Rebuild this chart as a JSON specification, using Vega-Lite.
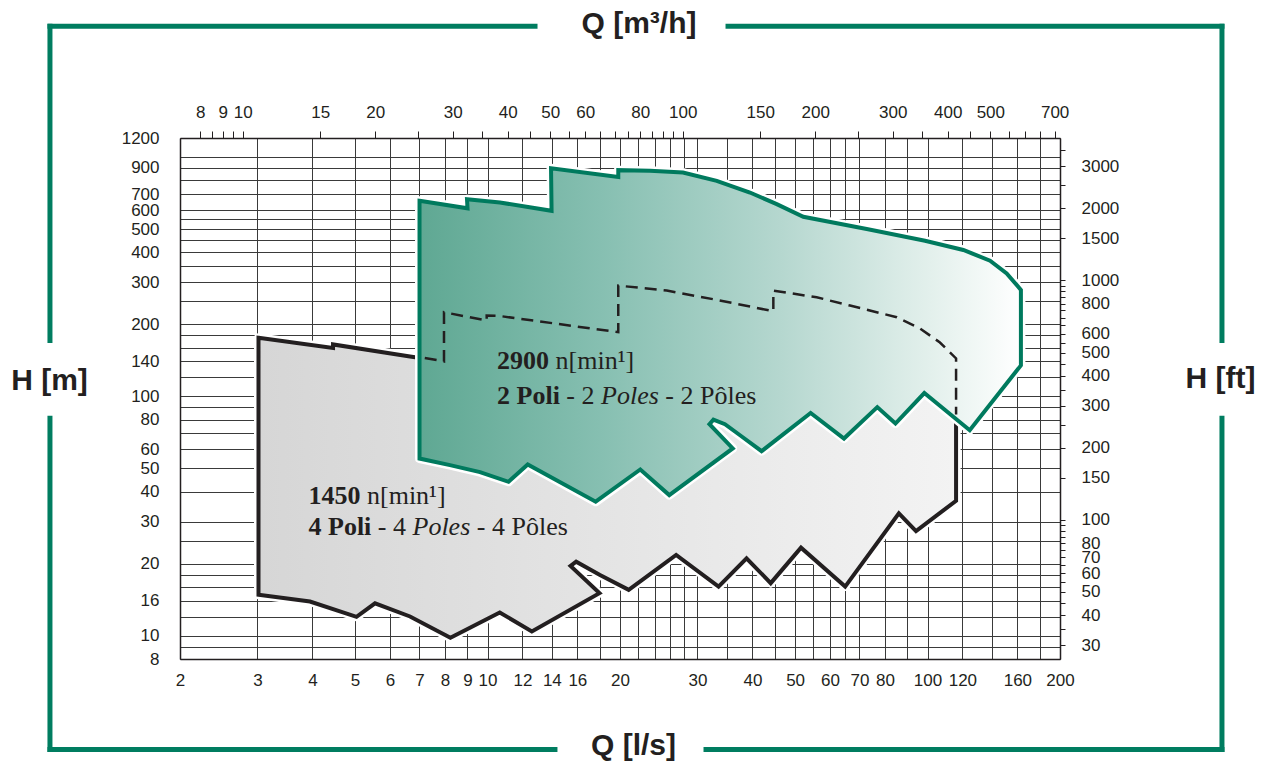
{
  "$schema": "https://vega.github.io/schema/vega-lite/v6.json",
  "width": 880,
  "height": 521,
  "autosize": {"type": "none"},
  "padding": {"left": 180, "top": 138, "right": 208, "bottom": 106},
  "background": "white",
  "config": {
    "view": {"stroke": null},
    "font": "Liberation Sans",
    "axis": {
      "labelFont": "Liberation Sans",
      "labelFontSize": 17,
      "labelColor": "#231f20",
      "labelOverlap": false,
      "labelFlush": false,
      "labelBound": false,
      "domainColor": "#231f20",
      "domainWidth": 1.5,
      "tickColor": "#231f20",
      "tickWidth": 1,
      "titleFont": "Liberation Sans",
      "titleFontSize": 30,
      "titleFontWeight": "bold",
      "titleColor": "#231f20",
      "titleAlign": "center",
      "titleAngle": 0,
      "titleBaseline": "alphabetic"
    }
  },
  "datasets": {
    "grey": [
      {"i": 1, "Q": 3.016, "H": 175.7},
      {"i": 2, "Q": 4.455, "H": 159.4},
      {"i": 3, "Q": 4.455, "H": 164.8},
      {"i": 4, "Q": 6.665, "H": 146.8},
      {"i": 5, "Q": 7.962, "H": 140.0},
      {"i": 6, "Q": 7.962, "H": 224.6},
      {"i": 7, "Q": 9.955, "H": 207.4},
      {"i": 8, "Q": 9.955, "H": 217.6},
      {"i": 9, "Q": 10.67, "H": 216.6},
      {"i": 10, "Q": 19.82, "H": 185.4},
      {"i": 11, "Q": 19.82, "H": 290.2},
      {"i": 12, "Q": 25.54, "H": 276.6},
      {"i": 13, "Q": 33.18, "H": 253.0},
      {"i": 14, "Q": 44.62, "H": 226.8},
      {"i": 15, "Q": 44.62, "H": 276.6},
      {"i": 16, "Q": 55.98, "H": 259.4},
      {"i": 17, "Q": 66.65, "H": 239.5},
      {"i": 18, "Q": 85.12, "H": 214.1},
      {"i": 19, "Q": 96.12, "H": 192.2},
      {"i": 20, "Q": 106.7, "H": 167.9},
      {"i": 21, "Q": 116.1, "H": 144.0},
      {"i": 22, "Q": 116.1, "H": 36.64},
      {"i": 23, "Q": 94.14, "H": 27.39},
      {"i": 24, "Q": 86.06, "H": 32.47},
      {"i": 25, "Q": 64.98, "H": 16.05},
      {"i": 26, "Q": 51.57, "H": 23.34},
      {"i": 27, "Q": 44.01, "H": 16.59},
      {"i": 28, "Q": 38.78, "H": 21.08},
      {"i": 29, "Q": 33.5, "H": 16.05},
      {"i": 30, "Q": 26.83, "H": 21.76},
      {"i": 31, "Q": 20.93, "H": 15.56},
      {"i": 32, "Q": 18.01, "H": 17.96},
      {"i": 33, "Q": 15.9, "H": 20.4},
      {"i": 34, "Q": 15.44, "H": 19.58},
      {"i": 35, "Q": 17.96, "H": 15.07},
      {"i": 36, "Q": 12.61, "H": 10.43},
      {"i": 37, "Q": 10.66, "H": 12.51},
      {"i": 38, "Q": 8.234, "H": 9.81},
      {"i": 39, "Q": 6.665, "H": 12.04},
      {"i": 40, "Q": 5.549, "H": 13.66},
      {"i": 41, "Q": 5.037, "H": 12.0},
      {"i": 42, "Q": 3.949, "H": 13.9},
      {"i": 43, "Q": 3.016, "H": 14.83}
    ],
    "green": [
      {"i": 1, "Q": 7.005, "H": 655.9},
      {"i": 2, "Q": 9.005, "H": 610.3},
      {"i": 3, "Q": 8.981, "H": 665.5},
      {"i": 4, "Q": 10.67, "H": 645.3},
      {"i": 5, "Q": 13.98, "H": 595.8},
      {"i": 6, "Q": 13.94, "H": 897.6},
      {"i": 7, "Q": 19.82, "H": 825.7},
      {"i": 8, "Q": 19.82, "H": 880.8},
      {"i": 9, "Q": 23.4, "H": 874.9},
      {"i": 10, "Q": 27.81, "H": 860.7},
      {"i": 11, "Q": 33.18, "H": 794.7},
      {"i": 12, "Q": 39.48, "H": 710.4},
      {"i": 13, "Q": 45.42, "H": 635.5},
      {"i": 14, "Q": 52.2, "H": 562.6},
      {"i": 15, "Q": 72.74, "H": 500.0},
      {"i": 16, "Q": 98.68, "H": 446.9},
      {"i": 17, "Q": 120.6, "H": 408.7},
      {"i": 18, "Q": 138.7, "H": 368.9},
      {"i": 19, "Q": 151.3, "H": 326.5},
      {"i": 20, "Q": 163.0, "H": 278.5},
      {"i": 21, "Q": 163.0, "H": 134.7},
      {"i": 22, "Q": 124.7, "H": 72.2},
      {"i": 23, "Q": 98.32, "H": 103.3},
      {"i": 24, "Q": 84.54, "H": 77.0},
      {"i": 25, "Q": 76.88, "H": 90.2},
      {"i": 26, "Q": 64.58, "H": 66.66},
      {"i": 27, "Q": 54.24, "H": 85.2},
      {"i": 28, "Q": 41.96, "H": 59.03},
      {"i": 29, "Q": 37.48, "H": 68.8},
      {"i": 30, "Q": 34.64, "H": 76.5},
      {"i": 31, "Q": 32.61, "H": 80.0},
      {"i": 32, "Q": 31.94, "H": 76.5},
      {"i": 33, "Q": 36.08, "H": 60.6},
      {"i": 34, "Q": 25.88, "H": 38.7},
      {"i": 35, "Q": 22.24, "H": 49.5},
      {"i": 36, "Q": 17.61, "H": 36.3},
      {"i": 37, "Q": 12.34, "H": 51.96},
      {"i": 38, "Q": 11.16, "H": 43.96},
      {"i": 39, "Q": 9.613, "H": 48.25},
      {"i": 40, "Q": 8.217, "H": 51.6},
      {"i": 41, "Q": 7.005, "H": 55.0}
    ],
    "dashed": [
      {"i": 1, "Q": 7.2, "H": 144.6},
      {"i": 2, "Q": 7.962, "H": 140.0},
      {"i": 3, "Q": 7.962, "H": 224.6},
      {"i": 4, "Q": 9.955, "H": 207.4},
      {"i": 5, "Q": 9.955, "H": 217.6},
      {"i": 6, "Q": 10.67, "H": 216.6},
      {"i": 7, "Q": 19.82, "H": 185.4},
      {"i": 8, "Q": 19.82, "H": 290.2},
      {"i": 9, "Q": 25.54, "H": 276.6},
      {"i": 10, "Q": 33.18, "H": 253.0},
      {"i": 11, "Q": 44.62, "H": 226.8},
      {"i": 12, "Q": 44.62, "H": 276.6},
      {"i": 13, "Q": 55.98, "H": 259.4},
      {"i": 14, "Q": 66.65, "H": 239.5},
      {"i": 15, "Q": 85.12, "H": 214.1},
      {"i": 16, "Q": 96.12, "H": 192.2},
      {"i": 17, "Q": 106.7, "H": 167.9},
      {"i": 18, "Q": 116.1, "H": 144.0},
      {"i": 19, "Q": 116.1, "H": 84.0}
    ],
    "frame": [
      {"Q": 1.0127, "Q2": 12.82, "H": 3516, "H2": 3516},
      {"Q": 35.2, "Q2": 466.8, "H": 3516, "H2": 3516},
      {"Q": 1.0127, "Q2": 14.23, "H": 3.351, "H2": 3.351},
      {"Q": 31.37, "Q2": 466.8, "H": 3.351, "H2": 3.351},
      {"Q": 1.0127, "Q2": 1.0127, "H": 3516, "H2": 171.2},
      {"Q": 1.0127, "Q2": 1.0127, "H": 81.0, "H2": 3.351},
      {"Q": 466.8, "Q2": 466.8, "H": 3516, "H2": 171.2},
      {"Q": 466.8, "Q2": 466.8, "H": 81.0, "H2": 3.351}
    ],
    "speed": [
      {"Q": 10.51, "H": 129.6, "rpm": "2900"},
      {"Q": 3.918, "H": 35.5, "rpm": "1450"}
    ],
    "poles": [
      {"Q": 10.51, "H": 93.1, "a": "2 Poli", "b": "- 2", "c": "Poles", "d": "- 2 Pôles"},
      {"Q": 3.918, "H": 26.4, "a": "4 Poli", "b": "- 4", "c": "Poles", "d": "- 4 Pôles"}
    ],
    "units": [
      {"Qm3h": 7.2, "Hft": 26.2467},
      {"Qm3h": 720, "Hft": 3937.0}
    ]
  },
  "layer": [
    {
      "encoding": {
        "x": {
          "field": "Q",
          "type": "quantitative",
          "scale": {"type": "log", "domain": [2, 200], "nice": false},
          "axis": {
            "orient": "bottom",
            "values": [2, 3, 4, 5, 6, 7, 8, 9, 10, 12, 14, 16, 18, 20, 22, 24, 26, 28, 30, 35, 40, 45, 50, 55, 60, 65, 70, 80, 90, 100, 120, 140, 160, 180, 200],
            "labelExpr": "indexof([2,3,4,5,6,7,8,9,10,12,14,16,20,30,40,50,60,70,80,100,120,160,200], datum.value) >= 0 ? '' + datum.value : ''",
            "grid": true,
            "gridColor": "#3a3a3a",
            "gridWidth": 1,
            "ticks": false,
            "labelPadding": 13,
            "title": "Q [l/s]",
            "titleX": 453,
            "titleY": 95
          }
        },
        "y": {
          "field": "H",
          "type": "quantitative",
          "scale": {"type": "log", "domain": [8, 1200], "nice": false},
          "axis": {
            "orient": "left",
            "values": [8, 9, 10, 12, 14, 16, 18, 20, 25, 30, 40, 50, 60, 70, 80, 90, 100, 120, 140, 160, 180, 200, 250, 300, 350, 400, 450, 500, 550, 600, 700, 800, 900, 1000, 1200],
            "labelExpr": "datum.value == 14 ? '16' : (indexof([8,10,20,30,40,50,60,80,100,140,200,300,400,500,600,700,900,1200], datum.value) >= 0 ? '' + datum.value : '')",
            "grid": true,
            "gridColor": "#3a3a3a",
            "gridWidth": 1,
            "ticks": false,
            "labelPadding": 21,
            "title": "H [m]",
            "titleX": -131,
            "titleY": 251
          }
        }
      },
      "layer": [
        {
          "data": {"name": "grey"},
          "mark": {"type": "line", "interpolate": "linear-closed", "stroke": "white", "strokeWidth": 9, "strokeJoin": "round"},
          "encoding": {"order": {"field": "i", "type": "quantitative"}}
        },
        {
          "data": {"name": "grey"},
          "mark": {
            "type": "line",
            "interpolate": "linear-closed",
            "fill": {"gradient": "linear", "x1": 0, "y1": 0, "x2": 1, "y2": 0, "stops": [{"offset": 0, "color": "#d6d6d6"}, {"offset": 1, "color": "#f3f3f3"}]},
            "stroke": "#231f20",
            "strokeWidth": 4,
            "strokeJoin": "miter",
            "strokeMiterLimit": 4
          },
          "encoding": {"order": {"field": "i", "type": "quantitative"}}
        },
        {
          "data": {"name": "green"},
          "mark": {"type": "line", "interpolate": "linear-closed", "stroke": "white", "strokeWidth": 9, "strokeJoin": "round"},
          "encoding": {"order": {"field": "i", "type": "quantitative"}}
        },
        {
          "data": {"name": "green"},
          "mark": {
            "type": "line",
            "interpolate": "linear-closed",
            "fill": {"gradient": "linear", "x1": 0, "y1": 0, "x2": 1, "y2": 0, "stops": [{"offset": 0, "color": "#5fa893"}, {"offset": 0.3, "color": "#86bfb1"}, {"offset": 0.6, "color": "#b5d7cf"}, {"offset": 0.85, "color": "#e3f0ec"}, {"offset": 1, "color": "#ffffff"}]},
            "stroke": "#007a5e",
            "strokeWidth": 4,
            "strokeJoin": "miter",
            "strokeMiterLimit": 4
          },
          "encoding": {"order": {"field": "i", "type": "quantitative"}}
        },
        {
          "data": {"name": "dashed"},
          "mark": {"type": "line", "stroke": "#231f20", "strokeWidth": 2.5, "strokeDash": [12, 7]},
          "encoding": {"order": {"field": "i", "type": "quantitative"}}
        },
        {
          "data": {"name": "frame"},
          "mark": {"type": "rule", "stroke": "#007d60", "strokeWidth": 5, "strokeCap": "square"},
          "encoding": {
            "x2": {"field": "Q2"},
            "y2": {"field": "H2"}
          }
        },
        {
          "data": {"name": "speed"},
          "mark": {"type": "text", "align": "left", "baseline": "alphabetic", "font": "Liberation Serif", "fontSize": 26, "fontWeight": "bold", "color": "#231f20"},
          "encoding": {"text": {"field": "rpm"}}
        },
        {
          "data": {"name": "speed"},
          "mark": {"type": "text", "text": "n[min¹]", "align": "left", "baseline": "alphabetic", "font": "Liberation Serif", "fontSize": 26, "color": "#231f20", "dx": 58.5},
          "encoding": {}
        },
        {
          "data": {"name": "poles"},
          "mark": {"type": "text", "align": "left", "baseline": "alphabetic", "font": "Liberation Serif", "fontSize": 26, "fontWeight": "bold", "color": "#231f20"},
          "encoding": {"text": {"field": "a"}}
        },
        {
          "data": {"name": "poles"},
          "mark": {"type": "text", "align": "left", "baseline": "alphabetic", "font": "Liberation Serif", "fontSize": 26, "color": "#231f20", "dx": 69.3},
          "encoding": {"text": {"field": "b"}}
        },
        {
          "data": {"name": "poles"},
          "mark": {"type": "text", "align": "left", "baseline": "alphabetic", "font": "Liberation Serif", "fontSize": 26, "fontStyle": "italic", "color": "#231f20", "dx": 104},
          "encoding": {"text": {"field": "c"}}
        },
        {
          "data": {"name": "poles"},
          "mark": {"type": "text", "align": "left", "baseline": "alphabetic", "font": "Liberation Serif", "fontSize": 26, "color": "#231f20", "dx": 168.3},
          "encoding": {"text": {"field": "d"}}
        }
      ]
    },
    {
      "data": {"name": "units"},
      "mark": {"type": "point", "opacity": 0},
      "encoding": {
        "x": {
          "field": "Qm3h",
          "type": "quantitative",
          "scale": {"type": "log", "domain": [7.2, 720], "nice": false},
          "axis": {
            "orient": "top",
            "values": [8, 8.5, 9, 9.5, 10, 15, 20, 25, 30, 35, 40, 45, 50, 55, 60, 65, 70, 75, 80, 85, 90, 95, 100, 150, 200, 250, 300, 350, 400, 450, 500, 550, 600, 650, 700],
            "labelExpr": "indexof([8,9,10,15,20,30,40,50,60,80,100,150,200,300,400,500,700], datum.value) >= 0 ? '' + datum.value : ''",
            "grid": false,
            "ticks": true,
            "tickSize": 7,
            "labelPadding": 10,
            "title": "Q [m³/h]",
            "titleX": 458.5,
            "titleY": -105.5
          }
        },
        "y": {
          "field": "Hft",
          "type": "quantitative",
          "scale": {"type": "log", "domain": [26.2467, 3937.0], "nice": false},
          "axis": {
            "orient": "right",
            "values": [30, 35, 40, 45, 50, 55, 60, 65, 70, 75, 80, 85, 90, 95, 100, 150, 200, 250, 300, 350, 400, 450, 500, 550, 600, 650, 700, 750, 800, 850, 900, 950, 1000, 1500, 2000, 2500, 3000, 3500],
            "labelExpr": "indexof([30,40,50,60,70,80,100,150,200,300,400,500,600,800,1000,1500,2000,3000], datum.value) >= 0 ? '' + datum.value : ''",
            "grid": false,
            "ticks": true,
            "tickSize": 5,
            "labelPadding": 16,
            "title": "H [ft]",
            "titleX": 160,
            "titleY": 249
          }
        }
      }
    }
  ],
  "resolve": {"scale": {"x": "independent", "y": "independent"}, "axis": {"x": "independent", "y": "independent"}}
}
